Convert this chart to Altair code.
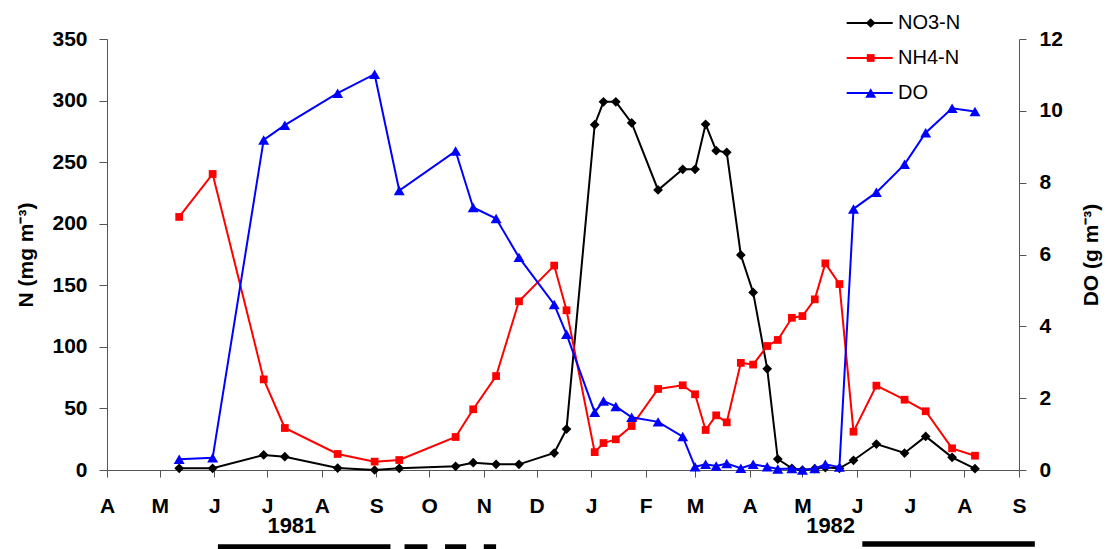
import altair as alt
import pandas as pd

# ---- data ----
names = ["NO3-N", "NH4-N", "DO"]
colors = ["#000000", "#FF0000", "#0000FF"]
shapes = ["diamond", "square", "triangle-up"]
marker_sizes = [95, 60, 120]

dates = [
    "1981-05-12", "1981-05-31", "1981-06-29", "1981-07-11", "1981-08-10", "1981-08-31",
    "1981-09-14", "1981-10-16", "1981-10-26", "1981-11-08", "1981-11-21", "1981-12-11",
    "1981-12-18", "1982-01-03", "1982-01-08", "1982-01-15", "1982-01-24", "1982-02-08",
    "1982-02-22", "1982-03-01", "1982-03-07", "1982-03-13", "1982-03-19", "1982-03-27",
    "1982-04-03", "1982-04-11", "1982-04-17", "1982-04-25", "1982-05-01", "1982-05-08",
    "1982-05-14", "1982-05-22", "1982-05-30", "1982-06-12", "1982-06-28", "1982-07-10",
    "1982-07-25", "1982-08-07",
]
no3 = [1.4, 1.4, 12.2, 10.8, 1.6, 0.0, 1.4, 3.0, 5.9, 4.6, 4.6, 13.8, 33.2,
       280.4, 299.0, 299.0, 281.8, 227.4, 244.2, 244.2, 280.7, 259.3, 258.0, 174.6,
       144.2, 82.2, 8.9, 1.4, 0.0, 1.1, 2.0, 1.4, 7.9, 21.1, 13.8, 27.3, 10.3, 1.1]
nh4 = [205.5, 240.4, 73.6, 34.1, 13.0, 6.8, 8.1, 26.8, 49.3, 76.3, 137.0, 166.0, 129.7,
       14.5, 21.9, 24.9, 35.7, 65.8, 68.8, 61.5, 32.5, 44.4, 38.7, 87.0,
       85.6, 100.7, 105.6, 123.6, 125.0, 138.6, 167.8, 151.0, 31.1, 68.5, 57.1, 47.7, 17.6, 11.6]
do_vals = [0.30, 0.34, 9.19, 9.60, 10.49, 11.02, 7.78, 8.88, 7.31, 7.00, 5.92, 4.61, 3.78,
           1.61, 1.92, 1.77, 1.47, 1.34, 0.93, 0.09, 0.16, 0.11, 0.18, 0.05,
           0.16, 0.09, 0.03, 0.04, 0.00, 0.04, 0.16, 0.08, 7.27, 7.73, 8.51, 9.39, 10.07, 9.98]

# periods drawn as black bars under the axis
bars81_start = ["1981-06-03", "1981-09-17", "1981-10-10", "1981-11-01"]
bars81_end = ["1981-09-09", "1981-09-30", "1981-10-22", "1981-11-08"]
bars82_start = ["1982-06-04"]
bars82_end = ["1982-09-10"]

year_labels = ["1981", "1982"]
year_dates = ["1981-07-15", "1982-05-17"]

month_ticks = [(1981, m) for m in range(4, 13)] + [(1982, m) for m in range(1, 10)]

FONT = "Liberation Sans"

def loc(d):
    return d + "T00:00:00"

n_df = pd.DataFrame({
    "date": [loc(d) for d in dates] * 2,
    "series": ["NO3-N"] * len(dates) + ["NH4-N"] * len(dates),
    "value": no3 + nh4,
})
do_df = pd.DataFrame({"date": [loc(d) for d in dates], "series": "DO", "value": do_vals})
leg_df = pd.DataFrame({"series": names})
b81 = pd.DataFrame({"date": [loc(d) for d in bars81_start], "end": [loc(d) for d in bars81_end]})
b82 = pd.DataFrame({"date": [loc(d) for d in bars82_start], "end": [loc(d) for d in bars82_end]})
yr_df = pd.DataFrame({"date": [loc(d) for d in year_dates], "label": year_labels})

AX_COL = "#555555"

x_scale = alt.Scale(
    domain=[alt.DateTime(year=1981, month=4, date=1), alt.DateTime(year=1982, month=9, date=1)],
    nice=False,
)
x_axis = alt.Axis(
    values=[alt.DateTime(year=y, month=m, date=1) for y, m in month_ticks],
    labelExpr="substring(timeFormat(datum.value, '%B'), 0, 1)",
    labelFont=FONT, labelFontSize=21, labelFontWeight="bold", labelColor="black",
    labelPadding=18, labelFlush=False, labelOverlap=False,
    tickSize=7, tickColor=AX_COL, domainColor=AX_COL, grid=False, title=None,
)
x_enc = alt.X("date:T", scale=x_scale, axis=x_axis, title=None)

color = alt.Color("series:N", scale=alt.Scale(domain=names, range=colors), legend=None)
shape = alt.Shape("series:N", scale=alt.Scale(domain=names, range=shapes), legend=None)

left_axis = alt.Axis(
    orient="left", values=list(range(0, 351, 50)), title="N (mg m⁻³)",
    tickSize=8, labelPadding=12, labelFont=FONT, labelFontSize=21, labelFontWeight="bold",
    labelColor="black", titleFont=FONT, titleFontSize=21, titleFontWeight="bold",
    titleColor="black", titleAngle=270, titleX=-75, titleY=215.5, titleAlign="center",
    titleBaseline="alphabetic", tickColor=AX_COL, domainColor=AX_COL, grid=False,
)
right_axis = alt.Axis(
    orient="right", values=list(range(0, 13, 2)), title="DO (g m⁻³)",
    tickSize=7, labelPadding=13, labelFont=FONT, labelFontSize=21, labelFontWeight="bold",
    labelColor="black", titleFont=FONT, titleFontSize=21, titleFontWeight="bold",
    titleColor="black", titleAngle=270, titleX=78, titleY=215.5, titleAlign="center",
    titleBaseline="alphabetic", tickColor=AX_COL, domainColor=AX_COL, grid=False,
)


def point_layers(df, x, y, series_list):
    out = []
    for s in series_list:
        i = names.index(s)
        out.append(
            alt.Chart(df).transform_filter(alt.datum.series == s)
            .mark_point(filled=True, opacity=1, size=marker_sizes[i], shape=shapes[i], color=colors[i])
            .encode(x=x, y=y)
        )
    return out


n_y = alt.Y("value:Q", scale=alt.Scale(domain=[0, 350], nice=False), axis=left_axis)
n_line = alt.Chart(n_df).mark_line(strokeWidth=2).encode(x=x_enc, y=n_y, color=color)
n_layer = alt.layer(n_line, *point_layers(n_df, x_enc, n_y, ["NO3-N", "NH4-N"]))

do_y = alt.Y("value:Q", scale=alt.Scale(domain=[0, 12], nice=False), axis=right_axis)
do_line = alt.Chart(do_df).mark_line(strokeWidth=2).encode(x=x_enc, y=do_y, color=color)
do_layer = alt.layer(do_line, *point_layers(do_df, x_enc, do_y, ["DO"]))

leg_y = alt.Y("series:N", scale=alt.Scale(type="point", domain=names, range=[-16, 54], padding=0), axis=None)
leg_rule = alt.Chart(leg_df).mark_rule(strokeWidth=2).encode(
    x=alt.value(739.7), x2=alt.value(785.7), y=leg_y, color=color)
leg_txt = alt.Chart(leg_df).mark_text(align="left", baseline="middle", font=FONT, fontSize=20).encode(
    x=alt.value(791), y=leg_y, text="series:N", color=alt.value("black"))
leg_layer = alt.layer(leg_rule, *point_layers(leg_df, alt.value(763.7), leg_y, names), leg_txt)

bar81 = alt.Chart(b81).mark_rule(strokeWidth=5.5, color="black", strokeCap="butt").encode(
    x=x_enc, x2="end:T", y=alt.value(508))
bar82 = alt.Chart(b82).mark_rule(strokeWidth=5.5, color="black", strokeCap="butt").encode(
    x=x_enc, x2="end:T", y=alt.value(505))
yrs = alt.Chart(yr_df).mark_text(font=FONT, fontSize=22, fontWeight="bold", align="center",
                                 baseline="alphabetic", color="black").encode(
    x=x_enc, text="label:N", y=alt.value(494))

chart = alt.layer(n_layer, do_layer, leg_layer, bar81, bar82, yrs).resolve_scale(
    y="independent"
).properties(
    width=912, height=431,
    autosize=alt.AutoSizeParams(type="none"),
    padding={"left": 107, "top": 39, "right": 89, "bottom": 79},
    background="white",
).configure_view(stroke=None)

chart.save("out.html", embed_options={"renderer": "svg", "actions": False})
